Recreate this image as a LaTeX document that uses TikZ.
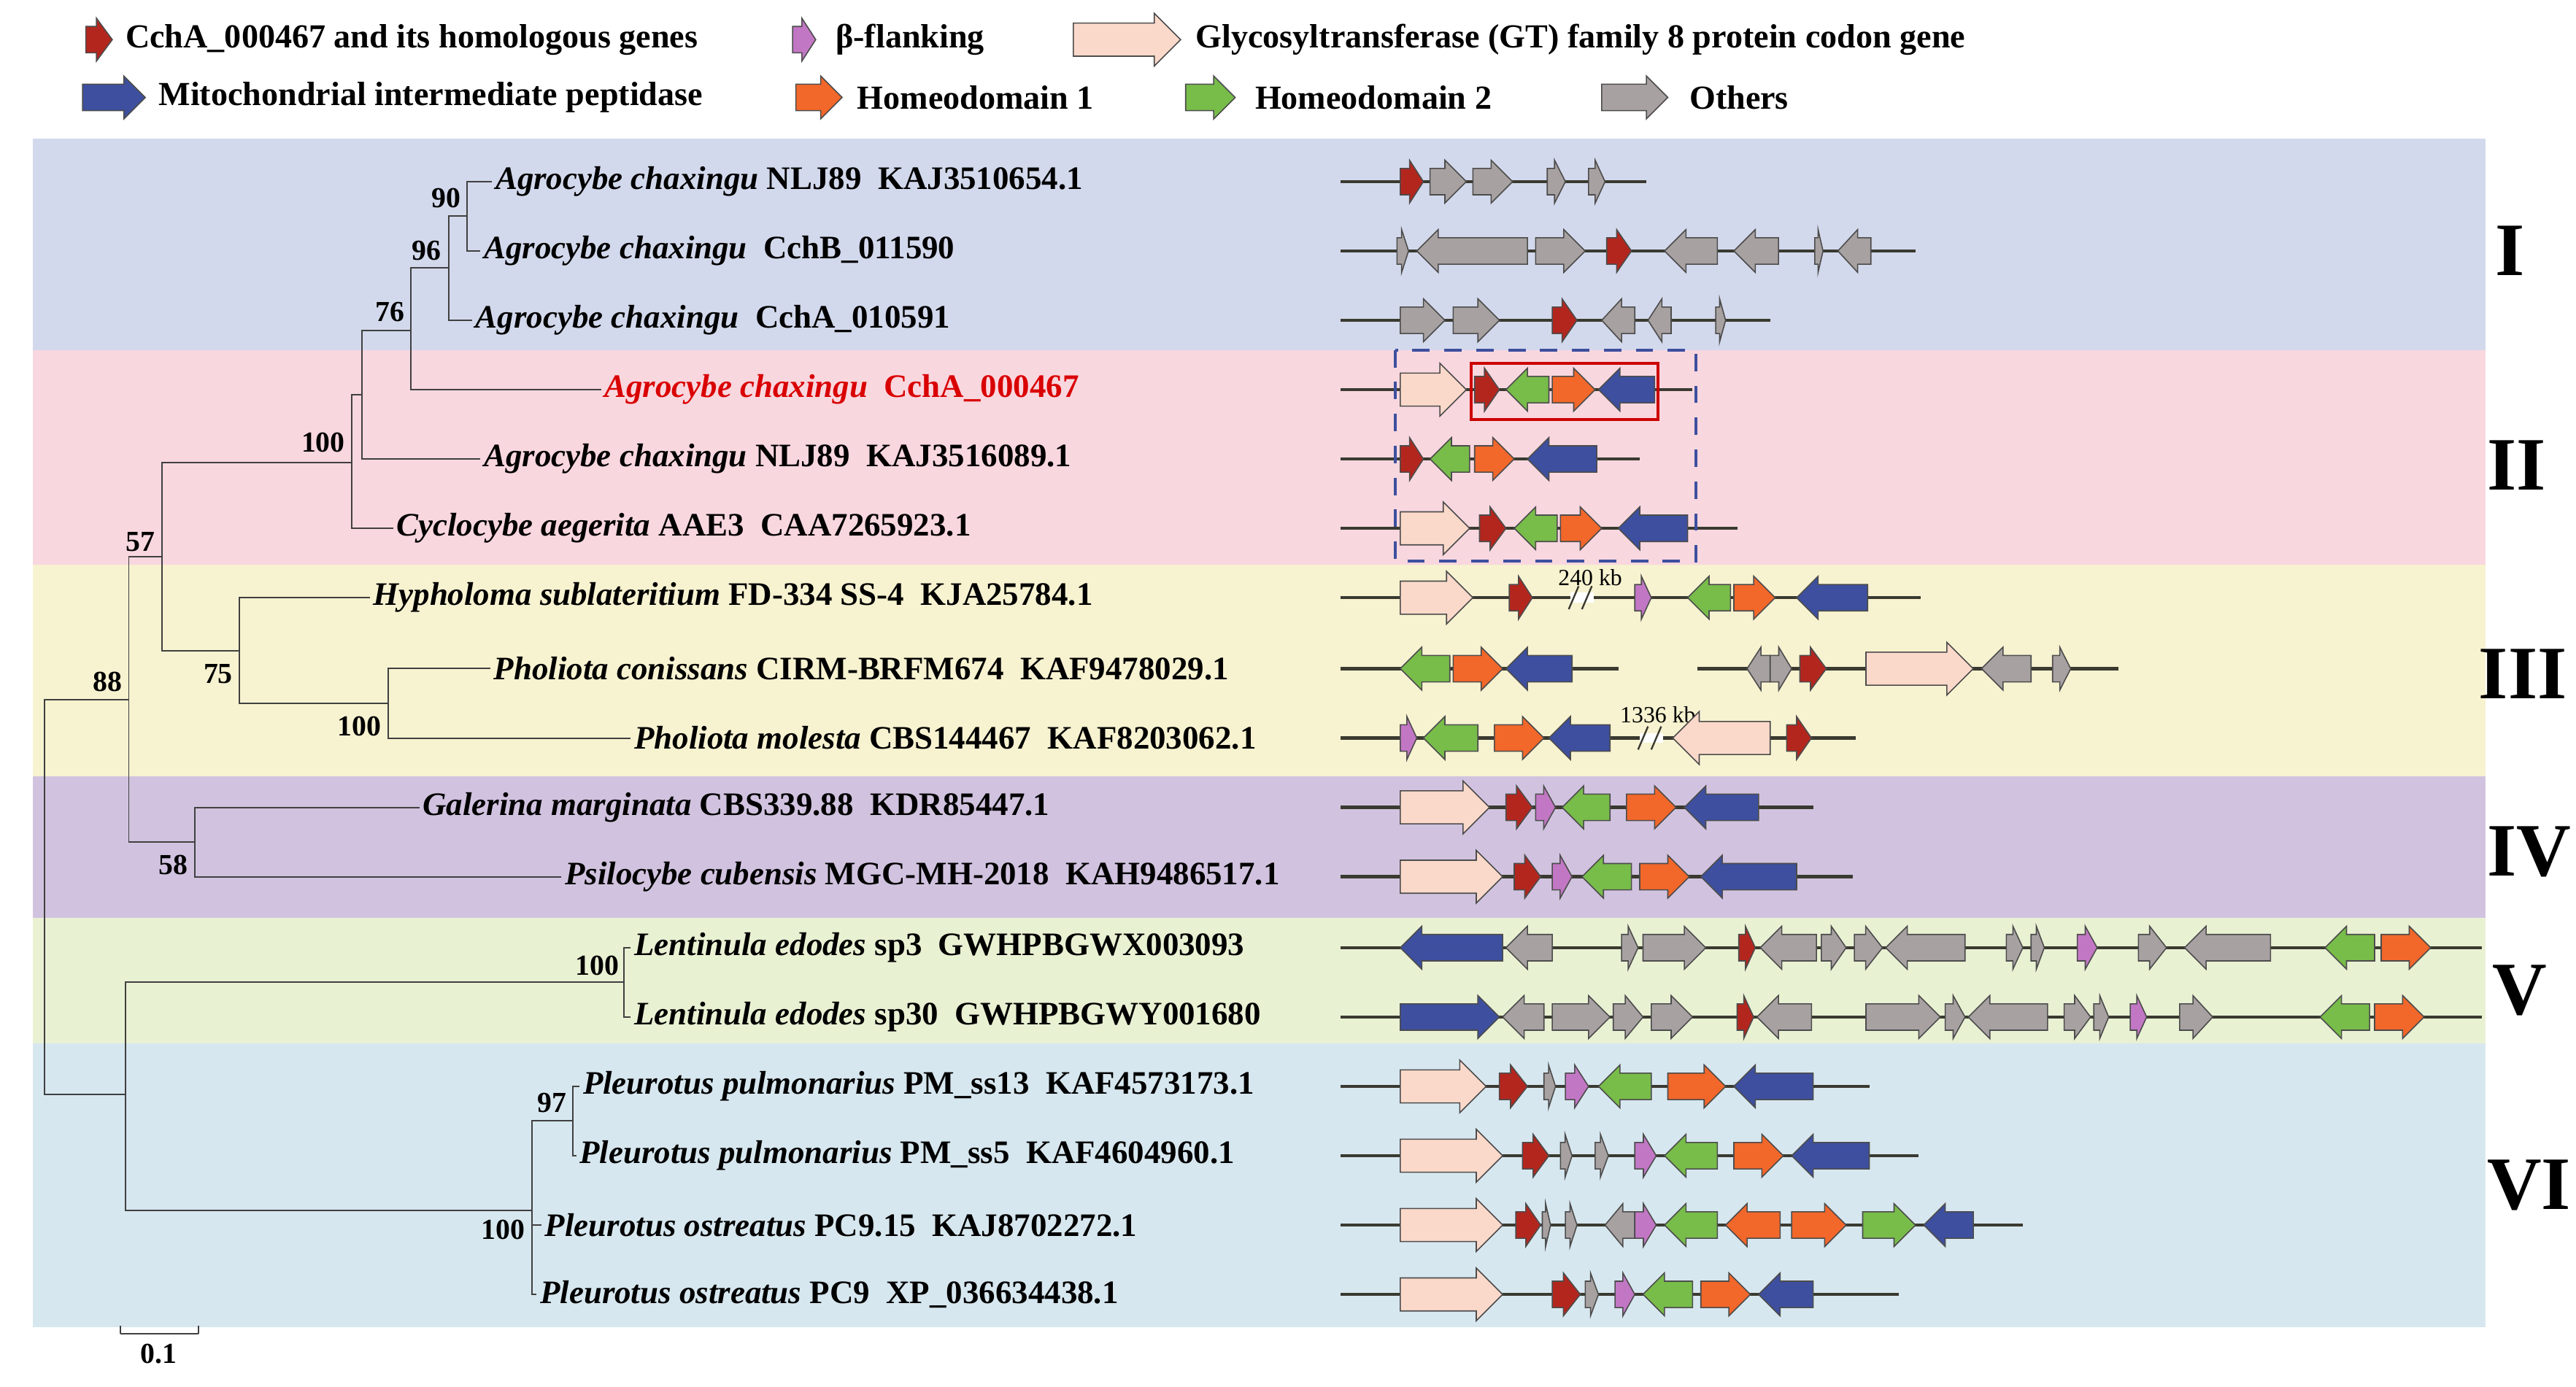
\documentclass[tikz,border=0pt]{standalone}
\usepackage{fontspec}
\setmainfont{Liberation Serif}
\usetikzlibrary{positioning}
\definecolor{bandone}{HTML}{D3D9EC}
\definecolor{bandtwo}{HTML}{F9D7DF}
\definecolor{bandthree}{HTML}{F7F2D0}
\definecolor{bandfour}{HTML}{D1C3DF}
\definecolor{bandfive}{HTML}{E9F1D3}
\definecolor{bandsix}{HTML}{D7E7EF}
\definecolor{redcol}{HTML}{B3261E}
\definecolor{graycol}{HTML}{A8A1A1}
\definecolor{gtcol}{HTML}{FBD9CA}
\definecolor{greencol}{HTML}{78BC4A}
\definecolor{orangecol}{HTML}{F2672A}
\definecolor{bluecol}{HTML}{3D4F9E}
\definecolor{purplecol}{HTML}{C277C4}
\definecolor{strandcol}{HTML}{3A3A30}
\tikzset{
    gene/.style = {draw=black!70, line width=0.4pt},
    strand/.style = {strandcol, line width=1.1pt},
    branch/.style = {black!75, line width=0.5pt},
    leaf/.style = {anchor=west, inner sep=1pt, font=\fontsize{11.3}{13}\selectfont\bfseries},
    boot/.style = {anchor=east, inner sep=1pt, font=\fontsize{10}{11}\selectfont\bfseries},
    clade/.style = {anchor=west, font=\fontsize{26}{28}\selectfont\bfseries},
    legend/.style = {anchor=west, inner sep=1pt, font=\fontsize{11.6}{13}\selectfont\bfseries}
  }
\def\bh{8}
\def\hh{13}
\def\GeneR#1#2#3{
  \pgfmathsetmacro\hl{min(\hh,0.6*(#2-#1))}
  \pgfmathsetmacro\hx{#2-\hl}
  \draw[gene, fill=#3] (#1,\ry-\bh) -- (\hx,\ry-\bh) -- (\hx,\ry-\hh)
    -- (#2,\ry) -- (\hx,\ry+\hh) -- (\hx,\ry+\bh) -- (#1,\ry+\bh) -- cycle;
}
\def\GeneL#1#2#3{
  \pgfmathsetmacro\hl{min(\hh,0.6*(#2-#1))}
  \pgfmathsetmacro\hx{#1+\hl}
  \draw[gene, fill=#3] (#2,\ry-\bh) -- (\hx,\ry-\bh) -- (\hx,\ry-\hh)
    -- (#1,\ry) -- (\hx,\ry+\hh) -- (\hx,\ry+\bh) -- (#2,\ry+\bh) -- cycle;
}
\def\GTR#1#2{{\def\bh{10}\def\hh{16}\GeneR{#1}{#2}{gtcol}}}
\def\GTL#1#2{{\def\bh{10}\def\hh{16}\GeneL{#1}{#2}{gtcol}}}
\def\Strand#1#2{\draw[strand] (#1,\ry) -- (#2,\ry);}
\def\Break#1{
  \fill[white] (#1-7,\ry-3) rectangle (#1+7,\ry+3);
  \draw[strandcol, line width=0.6pt] (#1-8,\ry+7) -- (#1-2,\ry-7);
  \draw[strandcol, line width=0.6pt] (#1,\ry+7) -- (#1+6,\ry-7);
}

\begin{document}
\begin{tikzpicture}[x=0.02cm, y=-0.02cm]
  \useasboundingbox (0,0) rectangle (1560,840);

  % clade bands
  \fill[bandone]   (20,84)  rectangle (1505,212);
  \fill[bandtwo]   (20,212) rectangle (1505,342);
  \fill[bandthree] (20,342) rectangle (1505,470);
  \fill[bandfour]  (20,470) rectangle (1505,556);
  \fill[bandfive]  (20,556) rectangle (1505,632);
  \fill[bandsix]   (20,632) rectangle (1505,804);

  \node[clade] (c_one)   at (1505,152) {I};
  \node[clade] (c_two)   at (1500,282) {II};
  \node[clade] (c_three) at (1495,408) {III};
  \node[clade] (c_four)  at (1500,516) {IV};
  \node[clade] (c_five)  at (1503,600) {V};
  \node[clade] (c_six)   at (1500,718) {VI};

  % legend
  \def\ry{24}
  \GeneR{52}{68}{redcol}
  \node[legend] (l_red) at (74,24) {CchA\_000467 and its homologous genes};
  \GeneR{480}{494}{purplecol}
  \node[legend] (l_pur) at (504,24) {β-flanking};
  \GTR{650}{715}
  \node[legend] (l_gt) at (722,24) {Glycosyltransferase (GT) family 8 protein codon gene};
  \def\ry{59}
  \GeneR{50}{88}{bluecol}
  \node[legend] (l_blue) at (94,59) {Mitochondrial intermediate peptidase};
  \GeneR{482}{510}{orangecol}
  \node[legend] (l_or) at (517,59) {Homeodomain 1};
  \GeneR{718}{748}{greencol}
  \node[legend] (l_gr) at (758,59) {Homeodomain 2};
  \GeneR{970}{1010}{graycol}
  \node[legend] (l_gray) at (1021,59) {Others};

  % leaves
  \node[leaf] (t_one)   at (298,110) {\textit{Agrocybe chaxingu}~NLJ89\enskip KAJ3510654.1};
  \node[leaf] (t_two)   at (291,152) {\textit{Agrocybe chaxingu}\enskip CchB\_011590};
  \node[leaf] (t_three) at (286,194) {\textit{Agrocybe chaxingu}\enskip CchA\_010591};
  \node[leaf, text=red!85!black] (t_four) at (364,236) {\textit{Agrocybe chaxingu}\enskip CchA\_000467};
  \node[leaf] (t_five)  at (291,278) {\textit{Agrocybe chaxingu}~NLJ89\enskip KAJ3516089.1};
  \node[leaf] (t_six)   at (238,320) {\textit{Cyclocybe aegerita}~AAE3\enskip CAA7265923.1};
  \node[leaf] (t_seven) at (224,362) {\textit{Hypholoma sublateritium}~FD-334 SS-4\enskip KJA25784.1};
  \node[leaf] (t_eight) at (297,405) {\textit{Pholiota conissans}~CIRM-BRFM674\enskip KAF9478029.1};
  \node[leaf] (t_nine)  at (382,447) {\textit{Pholiota molesta}~CBS144467\enskip KAF8203062.1};
  \node[leaf] (t_ten)   at (254,489) {\textit{Galerina marginata}~CBS339.88\enskip KDR85447.1};
  \node[leaf] (t_elev)  at (340,531) {\textit{Psilocybe cubensis}~MGC-MH-2018\enskip KAH9486517.1};
  \node[leaf] (t_twel)  at (382,574) {\textit{Lentinula edodes}~sp3\enskip GWHPBGWX003093};
  \node[leaf] (t_thir)  at (382,616) {\textit{Lentinula edodes}~sp30\enskip GWHPBGWY001680};
  \node[leaf] (t_fourt) at (351,658) {\textit{Pleurotus pulmonarius}~PM\_ss13\enskip KAF4573173.1};
  \node[leaf] (t_fift)  at (349,700) {\textit{Pleurotus pulmonarius}~PM\_ss5\enskip KAF4604960.1};
  \node[leaf] (t_sixt)  at (328,742) {\textit{Pleurotus ostreatus}~PC9.15\enskip KAJ8702272.1};
  \node[leaf] (t_sevt)  at (325,784) {\textit{Pleurotus ostreatus}~PC9\enskip XP\_036634438.1};

  % tree
  \draw[branch] (t_one.west) -| (283,131) |- (t_two.west);
  \draw[branch] (283,131) -| (272,162) |- (t_three.west);
  \draw[branch] (272,162) -| (249,200) |- (t_four.west);
  \draw[branch] (249,200) -| (219,239) |- (t_five.west);
  \draw[branch] (219,239) -| (213,280) |- (t_six.west);
  \draw[branch] (t_eight.west) -| (235,426) |- (t_nine.west);
  \draw[branch] (t_seven.west) -| (145,394) |- (235,426);
  \draw[branch] (213,280) -| (98,337) |- (145,394);
  \draw[branch] (t_ten.west) -| (118,510) |- (t_elev.west);
  \draw[branch] (98,337) -| (78,424) |- (118,510);
  \draw[branch] (t_twel.west) -| (378,595) |- (t_thir.west);
  \draw[branch] (t_fourt.west) -| (347,679) |- (t_fift.west);
  \draw[branch] (347,679) -| (322,742) |- (t_sevt.west);
  \draw[branch] (322,742) -- (t_sixt.west);
  \draw[branch] (378,595) -| (76,663) |- (322,733);
  \draw[branch] (78,424) -| (27,544) |- (76,663);

  \node[boot] (b_90)  at (281,120) {90};
  \node[boot] (b_96)  at (269,152) {96};
  \node[boot] (b_76)  at (247,189) {76};
  \node[boot] (b_100a) at (211,268) {100};
  \node[boot] (b_57)  at (96,328) {57};
  \node[boot] (b_75)  at (143,408) {75};
  \node[boot] (b_100b) at (233,440) {100};
  \node[boot] (b_88)  at (76,413) {88};
  \node[boot] (b_58)  at (116,524) {58};
  \node[boot] (b_100c) at (377,585) {100};
  \node[boot] (b_97)  at (345,668) {97};
  \node[boot] (b_100d) at (320,745) {100};

  % scale bar
  \draw[branch] (73,808) -- (120,808);
  \draw[branch] (73,803) -- (73,808) (120,803) -- (120,808);
  \node[boot, anchor=north] (s_bar) at (96,812) {0.1};

  % gene clusters
  \def\ry{110}
  \Strand{812}{997}
  \GeneR{848}{862}{redcol} \GeneR{866}{888}{graycol} \GeneR{892}{916}{graycol}
  \GeneR{937}{948}{graycol} \GeneR{962}{972}{graycol}

  \def\ry{152}
  \Strand{812}{1160}
  \GeneR{846}{853}{graycol} \GeneL{858}{925}{graycol} \GeneR{930}{960}{graycol}
  \GeneR{973}{988}{redcol} \GeneL{1008}{1040}{graycol} \GeneL{1050}{1077}{graycol}
  \GeneR{1099}{1104}{graycol} \GeneL{1113}{1133}{graycol}

  \def\ry{194}
  \Strand{812}{1072}
  \GeneR{848}{875}{graycol} \GeneR{880}{908}{graycol} \GeneR{940}{955}{redcol}
  \GeneL{970}{990}{graycol} \GeneL{998}{1012}{graycol} \GeneR{1039}{1045}{graycol}

  \def\ry{236}
  \Strand{812}{1025}
  \GTR{848}{888} \GeneR{893}{908}{redcol} \GeneL{912}{938}{greencol}
  \GeneR{940}{966}{orangecol} \GeneL{968}{1002}{bluecol}
  \draw[red!80!black, line width=1pt] (891,220) rectangle (1004,254);

  \def\ry{278}
  \Strand{812}{993}
  \GeneR{848}{862}{redcol} \GeneL{866}{890}{greencol} \GeneR{893}{917}{orangecol}
  \GeneL{925}{967}{bluecol}

  \def\ry{320}
  \Strand{812}{1052}
  \GTR{848}{890} \GeneR{896}{912}{redcol} \GeneL{917}{943}{greencol}
  \GeneR{945}{970}{orangecol} \GeneL{980}{1022}{bluecol}
  \draw[bluecol, line width=1pt, dashed, dash pattern=on 6pt off 5pt]
    (845,212) rectangle (1027,340);

  \def\ry{362}
  \Strand{812}{1163}
  \Break{958}
  \node[font=\fontsize{8}{9}\selectfont] (kb_one) at (963,350) {240 kb};
  \GTR{848}{892} \GeneR{914}{928}{redcol} \GeneR{990}{1000}{purplecol}
  \GeneL{1022}{1048}{greencol} \GeneR{1050}{1075}{orangecol} \GeneL{1088}{1131}{bluecol}

  \def\ry{405}
  \Strand{812}{980} \Strand{1028}{1283}
  \GeneL{848}{878}{greencol} \GeneR{880}{910}{orangecol} \GeneL{912}{952}{bluecol}
  \GeneL{1058}{1072}{graycol} \GeneR{1072}{1085}{graycol} \GeneR{1090}{1106}{redcol}
  \GTR{1130}{1195} \GeneL{1200}{1230}{graycol} \GeneR{1243}{1254}{graycol}

  \def\ry{447}
  \Strand{812}{1124}
  \Break{1000}
  \node[font=\fontsize{8}{9}\selectfont] (kb_two) at (1004,433) {1336 kb};
  \GeneR{848}{858}{purplecol} \GeneL{862}{895}{greencol} \GeneR{905}{935}{orangecol}
  \GeneL{938}{975}{bluecol} \GTL{1013}{1072} \GeneR{1082}{1097}{redcol}

  \def\ry{489}
  \Strand{812}{1098}
  \GTR{848}{902} \GeneR{912}{928}{redcol} \GeneR{930}{942}{purplecol}
  \GeneL{946}{975}{greencol} \GeneR{985}{1015}{orangecol} \GeneL{1020}{1065}{bluecol}

  \def\ry{531}
  \Strand{812}{1122}
  \GTR{848}{910} \GeneR{917}{933}{redcol} \GeneR{940}{952}{purplecol}
  \GeneL{958}{988}{greencol} \GeneR{993}{1023}{orangecol} \GeneL{1030}{1088}{bluecol}

  \def\ry{574}
  \Strand{812}{1503}
  \GeneL{848}{910}{bluecol} \GeneL{912}{940}{graycol} \GeneR{982}{992}{graycol}
  \GeneR{995}{1033}{graycol} \GeneR{1053}{1063}{redcol} \GeneL{1066}{1100}{graycol}
  \GeneR{1103}{1118}{graycol} \GeneR{1123}{1140}{graycol} \GeneL{1142}{1190}{graycol}
  \GeneR{1215}{1225}{graycol} \GeneR{1230}{1238}{graycol} \GeneR{1258}{1270}{purplecol}
  \GeneR{1295}{1312}{graycol} \GeneL{1323}{1375}{graycol} \GeneL{1408}{1438}{greencol}
  \GeneR{1442}{1472}{orangecol}

  \def\ry{616}
  \Strand{812}{1503}
  \GeneR{848}{908}{bluecol} \GeneL{910}{935}{graycol} \GeneR{940}{975}{graycol}
  \GeneR{977}{995}{graycol} \GeneR{1000}{1025}{graycol} \GeneR{1052}{1062}{redcol}
  \GeneL{1064}{1097}{graycol} \GeneR{1130}{1175}{graycol} \GeneR{1178}{1190}{graycol}
  \GeneL{1192}{1240}{graycol} \GeneR{1250}{1266}{graycol} \GeneR{1268}{1277}{graycol}
  \GeneR{1290}{1300}{purplecol} \GeneR{1320}{1340}{graycol} \GeneL{1405}{1435}{greencol}
  \GeneR{1438}{1468}{orangecol}

  \def\ry{658}
  \Strand{812}{1132}
  \GTR{848}{900} \GeneR{908}{925}{redcol} \GeneR{935}{942}{graycol}
  \GeneR{948}{962}{purplecol} \GeneL{968}{1000}{greencol} \GeneR{1010}{1045}{orangecol}
  \GeneL{1050}{1098}{bluecol}

  \def\ry{700}
  \Strand{812}{1162}
  \GTR{848}{910} \GeneR{922}{938}{redcol} \GeneR{945}{952}{graycol}
  \GeneR{966}{974}{graycol} \GeneR{990}{1003}{purplecol} \GeneL{1008}{1040}{greencol}
  \GeneR{1050}{1080}{orangecol} \GeneL{1085}{1132}{bluecol}

  \def\ry{742}
  \Strand{812}{1225}
  \GTR{848}{910} \GeneR{918}{933}{redcol} \GeneR{934}{939}{graycol}
  \GeneR{948}{955}{graycol} \GeneL{972}{990}{graycol} \GeneR{990}{1003}{purplecol}
  \GeneL{1008}{1040}{greencol} \GeneL{1045}{1078}{orangecol} \GeneR{1085}{1118}{orangecol}
  \GeneR{1128}{1160}{greencol} \GeneL{1165}{1195}{bluecol}

  \def\ry{784}
  \Strand{812}{1150}
  \GTR{848}{910} \GeneR{940}{957}{redcol} \GeneR{960}{968}{graycol}
  \GeneR{978}{990}{purplecol} \GeneL{995}{1025}{greencol} \GeneR{1030}{1060}{orangecol}
  \GeneL{1065}{1098}{bluecol}

\end{tikzpicture}
\end{document}
